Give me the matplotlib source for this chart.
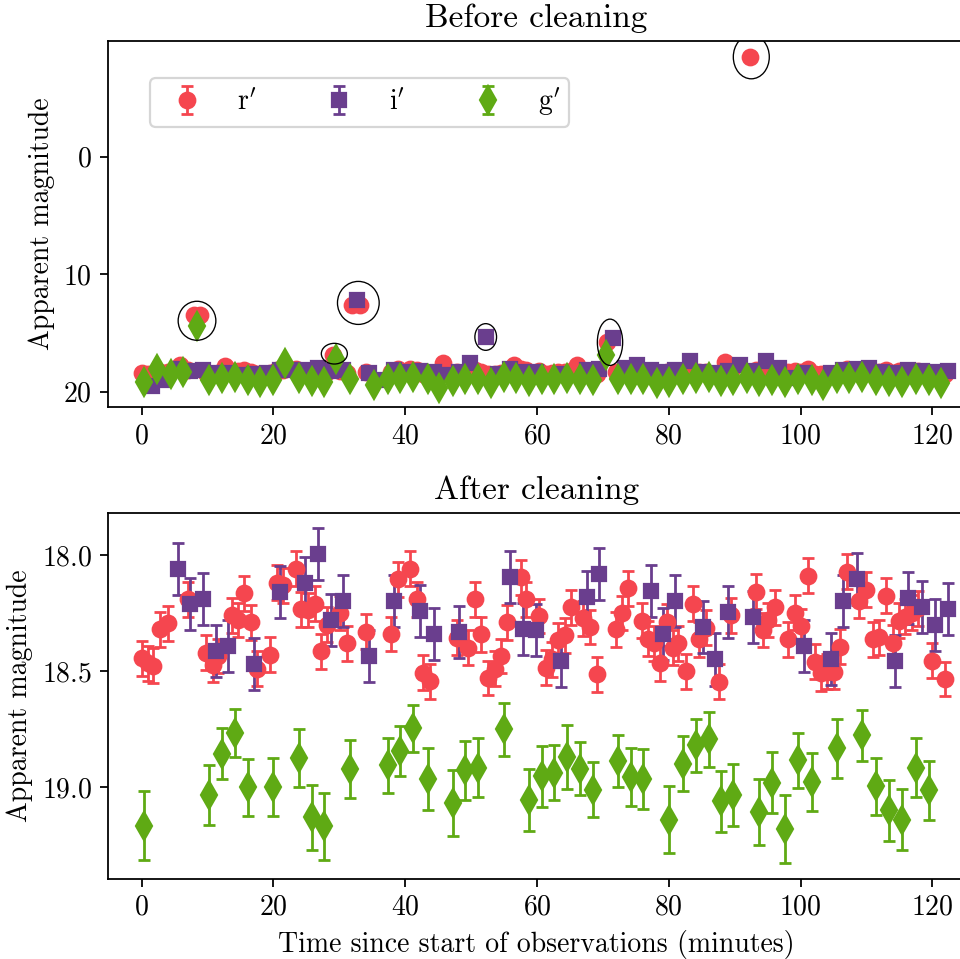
import matplotlib
matplotlib.use("Agg")
import matplotlib.pyplot as plt
from matplotlib.patches import Ellipse
import numpy as np

plt.rcParams['font.family'] = 'serif'
plt.rcParams['font.serif'] = ['cmr10']
plt.rcParams['mathtext.fontset'] = 'cm'
plt.rcParams['axes.formatter.use_mathtext'] = True
plt.rcParams['font.size'] = 12.5

red = '#f5464f'
purple = '#6a3e8e'
green = '#5faa14'

# ---- cleaned light curves (time in minutes, apparent magnitude) ----
r_t = [0.0, 0.93, 1.79, 2.79, 4.07, 7.03, 9.79, 10.86, 11.66, 13.68, 14.69, 15.59,
       16.60, 17.51, 19.53, 20.53, 21.44, 23.46, 24.26, 25.27, 26.28, 27.29, 28.09,
       30.11, 31.12, 34.04, 37.87, 38.88, 40.74, 41.80, 42.76, 43.77, 47.85, 49.56,
       50.57, 51.47, 52.53, 53.64, 54.50, 55.41, 57.62, 58.33, 60.32, 61.35, 62.26,
       63.27, 64.28, 65.18, 67.05, 68.05, 69.06, 71.93, 72.94, 73.85, 75.87, 76.87,
       77.78, 78.69, 79.70, 80.60, 81.46, 82.62, 83.63, 84.64, 85.64, 87.56, 89.47,
       93.25, 94.26, 95.12, 96.13, 98.14, 99.15, 100.06, 101.17, 102.17, 103.08,
       104.09, 105.10, 106.00, 107.01, 108.93, 109.93, 110.94, 111.95, 112.96,
       113.97, 114.87, 115.88, 116.89, 117.90, 120.01, 121.93]
r_mag = [18.445, 18.467, 18.477, 18.32, 18.295, 18.19, 18.42, 18.474, 18.435, 18.26,
         18.28, 18.165, 18.29, 18.49, 18.43, 18.12, 18.13, 18.06, 18.234, 18.237,
         18.21, 18.414, 18.30, 18.25, 18.38, 18.33, 18.34, 18.105, 18.06, 18.19,
         18.507, 18.543, 18.356, 18.40, 18.19, 18.342, 18.53, 18.49, 18.435, 18.29,
         18.096, 18.19, 18.263, 18.486, 18.45, 18.366, 18.345, 18.225, 18.273, 18.31,
         18.513, 18.32, 18.25, 18.144, 18.283, 18.36, 18.38, 18.467, 18.287, 18.40,
         18.38, 18.50, 18.21, 18.363, 18.313, 18.546, 18.26, 18.158, 18.323, 18.28,
         18.225, 18.363, 18.249, 18.306, 18.09, 18.46, 18.51, 18.503, 18.503, 18.395,
         18.072, 18.198, 18.15, 18.363, 18.355, 18.175, 18.378, 18.283, 18.266,
         18.249, 18.23, 18.455, 18.534]
r_err = 0.075

i_t = [5.48, 7.33, 9.35, 11.26, 13.18, 17.11, 20.94, 24.77, 26.73, 28.70, 30.61,
       34.54, 38.27, 42.26, 44.32, 48.15, 55.91, 57.93, 59.84, 63.67, 67.55, 69.47,
       77.28, 79.19, 80.96, 85.14, 87.05, 89.07, 92.80, 100.56, 104.59, 106.51,
       108.52, 114.37, 116.28, 118.50, 120.42, 122.33]
i_mag = [18.06, 18.21, 18.19, 18.414, 18.39, 18.47, 18.16, 18.12, 17.997, 18.28,
         18.197, 18.435, 18.197, 18.24, 18.342, 18.33, 18.096, 18.32, 18.323, 18.457,
         18.18, 18.08, 18.154, 18.34, 18.20, 18.31, 18.45, 18.244, 18.266, 18.392,
         18.448, 18.197, 18.103, 18.455, 18.187, 18.223, 18.30, 18.233]
i_err = 0.112

g_t = [0.37, 10.25, 12.22, 14.18, 16.10, 19.93, 23.86, 25.83, 27.74, 31.62, 37.36,
       39.23, 41.25, 43.41, 47.24, 49.16, 51.07, 55.00, 58.73, 60.75, 62.66, 64.58,
       66.49, 68.51, 72.34, 74.25, 76.17, 80.10, 82.12, 84.13, 86.05, 87.96, 89.78,
       93.76, 95.72, 97.64, 99.55, 101.67, 105.50, 109.38, 111.45, 113.36, 115.38,
       117.49, 119.51]
g_mag = [19.166, 19.034, 18.855, 18.766, 19.0, 19.0, 18.874, 19.13, 19.168, 18.922,
         18.905, 18.845, 18.747, 18.963, 19.067, 18.927, 18.915, 18.751, 19.056,
         18.953, 18.937, 18.87, 18.92, 19.01, 18.888, 18.955, 18.963, 19.14, 18.898,
         18.82, 18.794, 19.06, 19.034, 19.106, 18.98, 19.18, 18.884, 18.977, 18.833,
         18.776, 18.996, 19.10, 19.14, 18.915, 19.013]
g_err = [0.149, 0.129, 0.109, 0.102, 0.122, 0.124, 0.124, 0.139, 0.144, 0.124, 0.118,
         0.108, 0.103, 0.133, 0.142, 0.126, 0.129, 0.114, 0.133, 0.13, 0.12, 0.139,
         0.114, 0.118, 0.111, 0.126, 0.129, 0.144, 0.12, 0.113, 0.12, 0.132, 0.133,
         0.141, 0.131, 0.147, 0.118, 0.126, 0.128, 0.11, 0.122, 0.133, 0.131, 0.129,
         0.126]

# ---- points removed by the cleaning (only in the raw panel) ----
r_rej_t = [5.84, 7.95, 8.90, 12.67, 29.10, 32.00, 33.10, 45.80, 56.50, 66.10, 70.60,
           88.50, 92.34]
r_rej_mag = [17.75, 13.45, 13.45, 17.8, 16.85, 12.6, 12.6, 17.56, 17.7, 17.7, 15.8,
             17.5, -8.49]

i_rej_t = [1.55, 3.31, 15.10, 19.00, 22.94, 32.66, 36.45, 40.24, 46.05, 49.85, 52.23,
           54.14, 71.50, 73.37, 75.14, 83.23, 90.82, 94.77, 96.78, 98.66, 110.44, 112.32]
i_rej_mag = [19.55, 19.0, 18.55, 18.45, 18.2, 12.2, 19.0, 18.3, 18.6, 17.56, 15.35,
             18.5, 15.4, 18.0, 17.7, 17.4, 17.7, 17.36, 18.0, 18.84, 18.0, 18.3]

g_rej_t = [2.31, 4.48, 6.34, 8.38, 17.98, 21.78, 29.51, 35.33, 45.19, 52.99, 56.83,
           70.44, 78.18, 91.84, 103.46, 107.40, 121.30]
g_rej_mag = [18.07, 18.47, 18.36, 14.44, 19.2, 17.56, 17.2, 19.4, 19.7, 19.3, 18.85,
             16.85, 19.25, 18.85, 19.45, 18.8, 19.3]

# circled outliers: centre (min, mag) and size (min, mag)
circ_t = [8.42, 32.9, 29.26, 52.23, 71.09, 92.53]
circ_mag = [13.97, 12.45, 16.77, 15.35, 15.8, -8.48]
circ_w = [5.72, 6.33, 3.95, 3.29, 3.84, 5.46]
circ_h = [3.32, 3.66, 1.76, 2.27, 3.94, 3.72]

fig = plt.figure(figsize=(6.0, 5.994), dpi=160)
ax1 = fig.add_axes([0.1122, 0.5753, 0.8933, 0.3823])
ax2 = fig.add_axes([0.1122, 0.0834, 0.8933, 0.382])

style = dict(linestyle='none', elinewidth=1.25, capsize=2.9, capthick=1.25)

# raw data
ax1.errorbar(np.concatenate([r_t, r_rej_t]), np.concatenate([r_mag, r_rej_mag]),
             yerr=r_err, fmt='o', color=red, ms=7, label=r"$\mathrm{r}'$", **style)
ax1.errorbar(np.concatenate([i_t, i_rej_t]), np.concatenate([i_mag, i_rej_mag]),
             yerr=i_err, fmt='s', color=purple, ms=6.4, label=r"$\mathrm{i}'$", **style)
ax1.errorbar(np.concatenate([g_t, g_rej_t]), np.concatenate([g_mag, g_rej_mag]),
             yerr=np.concatenate([g_err, np.full(len(g_rej_t), 0.12)]), fmt='d',
             color=green, ms=8.8, label=r"$\mathrm{g}'$", **style)
for t, m, w, h in zip(circ_t, circ_mag, circ_w, circ_h):
    ax1.add_patch(Ellipse((t, m), w, h, fill=False, edgecolor='black', lw=0.6, zorder=5))

ax1.set_xlim(-5.13, 125)
ax1.set_ylim(21.33, -9.87)
ax1.set_yticks([0, 10, 20])
ax1.set_xticks(range(0, 121, 20))
ax1.set_ylabel('Apparent magnitude')
ax1.set_title('Before cleaning')
ax1.legend(ncol=3, loc='upper left', bbox_to_anchor=(0.0498, 0.898), borderaxespad=0,
           borderpad=0.3)

# cleaned data
ax2.errorbar(r_t, r_mag, yerr=r_err, fmt='o', color=red, ms=7, **style)
ax2.errorbar(i_t, i_mag, yerr=i_err, fmt='s', color=purple, ms=6.4, **style)
ax2.errorbar(g_t, g_mag, yerr=g_err, fmt='d', color=green, ms=8.8, **style)
ax2.set_xlim(-5.13, 125)
ax2.set_ylim(19.395, 17.818)
ax2.set_yticks([18.0, 18.5, 19.0])
ax2.set_xticks(range(0, 121, 20))
ax2.set_ylabel('Apparent magnitude')
ax2.set_xlabel('Time since start of observations (minutes)')
ax2.set_title('After cleaning')

fig.savefig('out.png', dpi=160)
